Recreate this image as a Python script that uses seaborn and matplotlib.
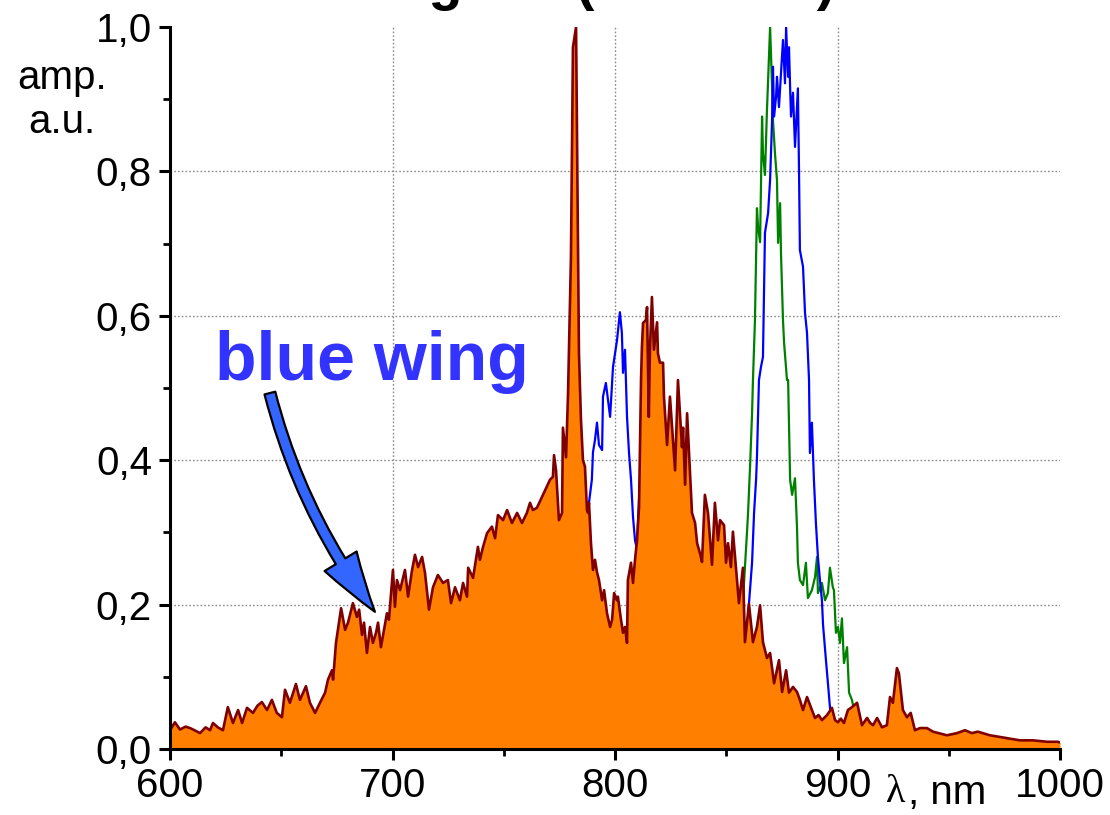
import numpy as np
import pandas as pd
import matplotlib
matplotlib.use("Agg")
import matplotlib.pyplot as plt
import seaborn as sns
from matplotlib.patches import FancyArrowPatch
from matplotlib.ticker import MultipleLocator, FuncFormatter

# ---------------- data ----------------
orange_x = [600.0, 602.2, 604.5, 607.0, 609.0, 611.0, 613.5, 616.0, 618.0, 619.3, 621.5, 623.8,
            626.0, 628.3, 630.6, 632.4, 634.6, 637.3, 639.3, 641.3, 643.6, 645.8, 648.0, 650.3,
            651.7, 653.9, 656.6, 658.4, 661.1, 662.9, 665.2, 667.4, 669.7, 671.0, 672.8, 673.3,
            674.6, 676.9, 678.7, 680.0, 682.2, 684.0, 685.0, 686.3, 687.2, 688.5, 689.9, 691.2,
            692.6, 693.5, 694.8, 697.5, 698.4, 700.2, 701.1, 702.0, 703.4, 705.6, 707.0, 708.8,
            710.1, 711.5, 713.3, 714.6, 716.4, 718.2, 720.4, 722.7, 724.9, 726.3, 728.1, 730.3,
            731.7, 733.5, 734.0, 736.2, 738.4, 739.3, 740.7, 742.5, 744.7, 746.1, 747.4, 749.7,
            751.5, 753.7, 756.0, 758.2, 760.4, 761.8, 763.1, 764.9, 770.8, 772.1, 772.6, 773.5,
            774.8, 776.2, 776.6, 778.0, 778.9, 780.2, 781.1, 782.5, 783.8, 784.7, 785.6, 786.5,
            787.4, 787.9, 788.3, 789.2, 790.1, 791.0, 791.9, 792.8, 794.2, 795.1, 796.4, 797.8,
            798.7, 799.6, 800.9, 801.3, 802.7, 803.6, 804.5, 805.4, 805.8, 807.2, 808.1, 809.0,
            809.9, 810.8, 811.7, 812.1, 812.6, 813.9, 814.4, 815.2, 815.7, 816.6, 817.5, 818.9,
            819.3, 820.2, 821.6, 822.0, 823.4, 824.7, 827.0, 828.3, 830.1, 830.6, 831.5, 832.4,
            834.6, 836.0, 836.9, 838.2, 839.1, 840.4, 841.8, 843.6, 844.9, 846.3, 847.2, 849.0,
            849.9, 850.8, 852.1, 853.0, 854.8, 855.7, 857.5, 858.4, 860.2, 862.0, 863.8, 865.2,
            866.5, 868.3, 869.7, 871.5, 873.7, 875.1, 876.9, 878.2, 880.0, 881.8, 883.1, 884.5,
            886.3, 888.5, 889.9, 891.5, 893.0, 895.3, 897.5, 898.9, 900.2, 901.5, 902.9, 904.7,
            906.5, 908.8, 911.0, 913.3, 914.7, 916.0, 917.8, 920.0, 922.2, 923.6, 924.9, 926.7,
            927.6, 929.4, 931.2, 932.9, 934.8, 937.1, 940.2, 942.9, 949.2, 953.7, 957.3, 960.4,
            963.1, 968.5, 976.2, 982.0, 987.9, 994.2, 999.0, 1000.0]
orange_y = [0.026, 0.037, 0.027, 0.031, 0.029, 0.026, 0.022, 0.030, 0.026, 0.036, 0.030, 0.026,
            0.058, 0.036, 0.054, 0.036, 0.057, 0.050, 0.060, 0.065, 0.054, 0.068, 0.050, 0.044,
            0.082, 0.064, 0.090, 0.068, 0.087, 0.064, 0.050, 0.064, 0.078, 0.096, 0.109, 0.096,
            0.147, 0.195, 0.165, 0.175, 0.202, 0.183, 0.193, 0.158, 0.175, 0.133, 0.169, 0.147,
            0.161, 0.175, 0.141, 0.188, 0.179, 0.248, 0.197, 0.234, 0.220, 0.248, 0.211, 0.248,
            0.269, 0.252, 0.266, 0.244, 0.193, 0.224, 0.241, 0.230, 0.234, 0.202, 0.224, 0.206,
            0.230, 0.211, 0.251, 0.237, 0.280, 0.262, 0.280, 0.299, 0.308, 0.292, 0.324, 0.317,
            0.331, 0.313, 0.327, 0.313, 0.327, 0.341, 0.331, 0.334, 0.373, 0.377, 0.407, 0.386,
            0.317, 0.327, 0.445, 0.404, 0.493, 0.681, 0.972, 1.000, 0.548, 0.456, 0.400, 0.391,
            0.331, 0.327, 0.341, 0.285, 0.248, 0.262, 0.245, 0.234, 0.206, 0.220, 0.188, 0.169,
            0.179, 0.216, 0.206, 0.211, 0.179, 0.161, 0.169, 0.147, 0.234, 0.258, 0.230, 0.262,
            0.289, 0.335, 0.511, 0.557, 0.590, 0.594, 0.612, 0.460, 0.553, 0.626, 0.553, 0.591,
            0.548, 0.535, 0.535, 0.488, 0.421, 0.488, 0.386, 0.511, 0.418, 0.445, 0.366, 0.465,
            0.327, 0.313, 0.285, 0.271, 0.259, 0.352, 0.327, 0.255, 0.341, 0.289, 0.317, 0.310,
            0.258, 0.285, 0.252, 0.301, 0.234, 0.202, 0.251, 0.148, 0.201, 0.148, 0.169, 0.199,
            0.148, 0.126, 0.133, 0.091, 0.123, 0.079, 0.109, 0.078, 0.086, 0.079, 0.068, 0.054,
            0.072, 0.054, 0.043, 0.047, 0.040, 0.047, 0.057, 0.040, 0.037, 0.042, 0.036, 0.054,
            0.058, 0.064, 0.033, 0.043, 0.036, 0.033, 0.043, 0.030, 0.033, 0.072, 0.064, 0.112,
            0.105, 0.054, 0.044, 0.050, 0.026, 0.029, 0.029, 0.024, 0.019, 0.022, 0.026, 0.022,
            0.024, 0.019, 0.015, 0.012, 0.012, 0.010, 0.010, 0.009]

blue_x = [784.0, 786.0, 788.3, 789.6, 790.1, 791.0, 791.9, 792.8, 794.2, 794.6, 795.9, 797.8,
          799.1, 800.9, 802.2, 803.1, 803.6, 804.5, 805.4, 806.3, 807.2, 808.1, 809.0, 809.9,
          810.3, 811.2, 812.5, 816.0, 822.0, 830.0, 840.0, 850.0, 856.0, 858.5, 860.2, 861.6,
          862.5, 863.4, 863.8, 864.7, 865.6, 866.5, 867.4, 868.8, 869.7, 870.6, 871.0, 871.5,
          872.4, 872.8, 873.7, 875.5, 876.4, 876.9, 877.8, 878.2, 878.7, 879.1, 880.0, 880.9,
          882.2, 882.7, 883.1, 884.5, 885.4, 886.3, 887.2, 887.6, 888.5, 889.4, 890.3, 891.2,
          892.1, 893.0, 893.5, 894.7, 895.7, 896.6, 897.5]
blue_y = [0.250, 0.300, 0.341, 0.373, 0.411, 0.428, 0.452, 0.421, 0.414, 0.488, 0.507, 0.460,
          0.529, 0.566, 0.605, 0.576, 0.521, 0.553, 0.460, 0.410, 0.373, 0.321, 0.289, 0.276,
          0.313, 0.373, 0.450, 0.350, 0.250, 0.200, 0.150, 0.120, 0.100, 0.110, 0.201, 0.258,
          0.327, 0.373, 0.404, 0.511, 0.529, 0.543, 0.715, 0.742, 0.788, 0.871, 0.945, 0.876,
          0.904, 0.931, 0.889, 0.982, 0.922, 1.000, 0.931, 0.972, 0.917, 0.876, 0.909, 0.834,
          0.915, 0.802, 0.691, 0.668, 0.604, 0.576, 0.511, 0.410, 0.452, 0.373, 0.313, 0.266,
          0.234, 0.206, 0.172, 0.127, 0.091, 0.058, 0.030]

green_x = [855.0, 857.0, 858.4, 859.3, 859.8, 860.7, 861.6, 862.0, 862.9, 863.8, 864.3, 865.2,
           866.1, 866.5, 867.4, 868.3, 869.7, 870.6, 871.0, 871.9, 872.8, 873.3, 874.2, 874.6,
           875.5, 876.0, 877.3, 877.8, 878.7, 879.6, 880.9, 881.8, 882.2, 883.1, 884.5, 885.8,
           886.7, 888.5, 889.9, 890.8, 891.2, 893.0, 894.4, 895.7, 896.6, 897.9, 898.4, 899.3,
           900.2, 901.1, 902.0, 902.9, 904.3, 905.2, 906.5, 908.0, 910.0]
green_y = [0.120, 0.180, 0.252, 0.299, 0.327, 0.391, 0.465, 0.511, 0.594, 0.749, 0.723, 0.702,
           0.876, 0.825, 0.795, 0.885, 1.000, 0.917, 0.871, 0.825, 0.788, 0.701, 0.756, 0.687,
           0.594, 0.562, 0.511, 0.511, 0.373, 0.352, 0.375, 0.307, 0.258, 0.234, 0.227, 0.258,
           0.209, 0.220, 0.238, 0.266, 0.216, 0.230, 0.206, 0.216, 0.251, 0.224, 0.220, 0.161,
           0.169, 0.147, 0.181, 0.119, 0.141, 0.078, 0.068, 0.045, 0.030]

y_ticks = [0.0, 0.2, 0.4, 0.6, 0.8, 1.0]
x_ticks = [600, 700, 800, 900, 1000]
grid_x = [700, 800, 900]
grid_y = [0.2, 0.4, 0.6, 0.8]

# ---------------- style ----------------
sns.set_theme(style="ticks")
plt.rcParams['font.family'] = ['Liberation Sans', 'DejaVu Sans']

W, H = 1110, 815
fig = plt.figure(figsize=(W / 100, H / 100), dpi=100)
ax = fig.add_axes([170 / W, 66 / H, 890 / W, 722 / H])

grid_kw = dict(color='#8c8c8c', lw=1.0, ls=(0, (1.2, 1.5)), zorder=0.5)
for gx in grid_x:
    ax.axvline(gx, **grid_kw)
for gy in grid_y:
    ax.axhline(gy, **grid_kw)

df_o = pd.DataFrame({'wl': orange_x, 'amp': orange_y})
df_b = pd.DataFrame({'wl': blue_x, 'amp': blue_y})
df_g = pd.DataFrame({'wl': green_x, 'amp': green_y})

sns.lineplot(data=df_g, x='wl', y='amp', ax=ax, color='#008000', lw=1.6, zorder=1)
sns.lineplot(data=df_b, x='wl', y='amp', ax=ax, color='#0000FF', lw=1.6, zorder=1.1)
ax.fill_between(df_o['wl'], 0, df_o['amp'], color='#FF8000', lw=0, zorder=2)
sns.lineplot(data=df_o, x='wl', y='amp', ax=ax, color='#800000', lw=1.9, zorder=3)

ax.set_xlim(600, 1000)
ax.set_ylim(0, 1.0)
ax.set_xlabel('')
ax.set_ylabel('')
ax.set_xticks(x_ticks)
ax.set_yticks(y_ticks)
ax.xaxis.set_minor_locator(MultipleLocator(50))
ax.yaxis.set_minor_locator(MultipleLocator(0.1))
ax.yaxis.set_major_formatter(FuncFormatter(lambda v, p: f"{v:.1f}".replace('.', ',')))
ax.xaxis.set_major_formatter(FuncFormatter(lambda v, p: f"{int(v)}"))

for s in ['top', 'right']:
    ax.spines[s].set_visible(False)
for s in ['left', 'bottom']:
    ax.spines[s].set_linewidth(2.2)
    ax.spines[s].set_color('black')
    ax.spines[s].set_zorder(4)

ax.tick_params(axis='both', which='major', direction='out', length=8, width=2.2,
               labelsize=29, color='black', labelcolor='black')
ax.tick_params(axis='both', which='minor', direction='out', length=5, width=2.0, color='black')
ax.tick_params(axis='x', which='major', pad=5)
ax.tick_params(axis='y', which='major', pad=5)

# axis labels
fig.text(62 / W, 1 - 100 / H, "amp.\na.u.", ha='center', va='center', fontsize=29,
         linespacing=1.2, color='black')
fig.text(896 / W, 1 - 793 / H, "λ", ha='center', va='center', fontsize=29,
         family=['Liberation Serif', 'DejaVu Serif'], color='black')
fig.text(908 / W, 1 - 793 / H, ", nm", ha='left', va='center', fontsize=29, color='black')

# title, cut off by the top edge as in the reference
fig.text(462 / W, 1 + 1 / H, "Red wing", ha='right', va='baseline', fontsize=40,
         fontweight='bold', color='black')
fig.text(576 / W, 1 + 1 / H, "(1000 nm)", ha='left', va='baseline', fontsize=40,
         fontweight='bold', color='black')

# annotation
ax.text(620.2, 0.511, "blue wing", ha='left', va='baseline', fontsize=49,
        fontweight='bold', color='#3333FF', zorder=6)
arrow = FancyArrowPatch((644.9, 0.493), (692.1, 0.190), transform=ax.transData,
                        arrowstyle="simple,head_length=44,head_width=27,tail_width=8",
                        mutation_scale=1, connectionstyle="arc3,rad=0.1",
                        facecolor='#3366FF', edgecolor='black', lw=1.6,
                        shrinkA=0, shrinkB=0, zorder=6)
ax.add_patch(arrow)

fig.savefig("out.png", dpi=100)
